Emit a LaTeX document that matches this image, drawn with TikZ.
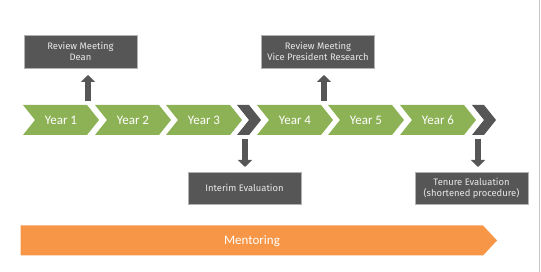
\documentclass[tikz,border=0pt]{standalone}
\usepackage{fontspec}
\setmainfont{Carlito}
\newfontfamily\boxfont{Fira Sans}
\usetikzlibrary{arrows.meta}
\definecolor{chevgreen}{HTML}{8DB255}
\definecolor{darkgray}{HTML}{565656}
\definecolor{mentor}{HTML}{F79646}
\definecolor{boxtext}{HTML}{E8E8E8}
\begin{document}
\begin{tikzpicture}[x=1pt,y=-1pt,
  yearlabel/.style={text=white,font=\fontsize{13}{15}\selectfont,inner sep=0pt},
  infobox/.style={fill=darkgray,draw=gray!60,line width=0.5pt,text=boxtext,
    font=\boxfont\fontsize{9.4}{11}\selectfont,align=center,inner sep=0pt,
    minimum width=113pt,minimum height=33pt},
  blockarrow/.style={draw=darkgray,line width=6pt,-{Triangle[length=7pt,width=14pt]}},
]
\useasboundingbox (0,0) rectangle (541,272);
\draw[gray!45,line width=0.8pt] (539.5,0) -- (539.5,272);
% green chevrons
\foreach \x/\n in {23/1,95/2,166/3,257/4,328/5,400/6}{
  \fill[chevgreen] (\x,105) -- ++(64,0) -- ++(12,15) -- ++(-12,15) -- ++(-64,0) -- ++(12,-15) -- cycle;
  \node[yearlabel] (y\n) at (\x+38,120) {Year \n};
}
% dark chevrons
\foreach \x/\n in {237/a,472/b}{
  \fill[darkgray] (\x,105) -- ++(12,0) -- ++(12,15) -- ++(-12,15) -- ++(-12,0) -- ++(12,-15) -- cycle;
}
% boxes
\node[infobox] (dean) at (80.5,51.5) {Review Meeting\\Dean};
\node[infobox] (vp) at (318,51.5) {Review Meeting\\Vice President Research};
\node[infobox,minimum height=32pt] (interim) at (244.5,188) {Interim Evaluation};
\node[infobox,minimum height=32pt] (tenure) at (471.5,188) {Tenure Evaluation\\(shortened procedure)};
% arrow anchors
\coordinate (s1) at (88,101);
\coordinate (e1) at (88,75);
\coordinate (s2) at (324,101);
\coordinate (e2) at (324,75);
\coordinate (s3) at (245,139);
\coordinate (e3) at (245,167);
\coordinate (s4) at (478,139);
\coordinate (e4) at (478,167);
\draw[blockarrow] (s1) -- (e1);
\draw[blockarrow] (s2) -- (e2);
\draw[blockarrow] (s3) -- (e3);
\draw[blockarrow] (s4) -- (e4);
% mentoring
\fill[mentor] (20.5,225.5) -- (483,225.5) -- (497,240.5) -- (483,255.5) -- (20.5,255.5) -- cycle;
\node[text=white,font=\fontsize{13}{15}\selectfont,inner sep=0pt] (mentoring) at (252,241) {Mentoring};
\end{tikzpicture}
\end{document}
